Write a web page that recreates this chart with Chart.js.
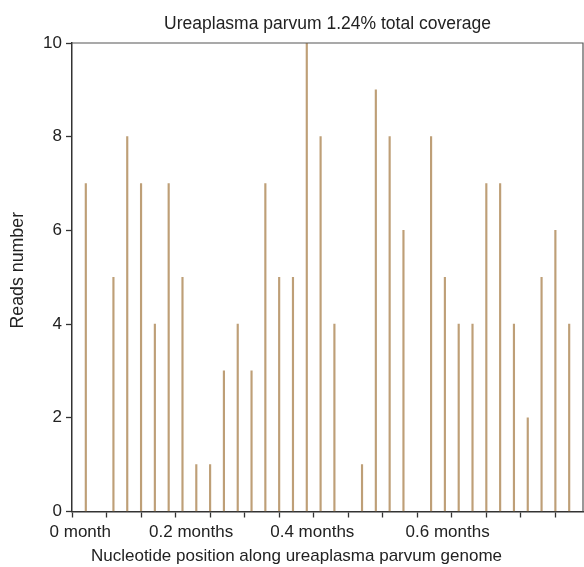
<!DOCTYPE html>
<html>
<head>
<meta charset="utf-8">
<title>Ureaplasma parvum coverage</title>
<script src="https://cdn.jsdelivr.net/npm/chart.js@4/dist/chart.umd.min.js"></script>
<style>
  html, body { margin: 0; padding: 0; background: #fff; }
  #wrap { width: 584px; height: 567px; }
</style>
</head>
<body>
<div id="wrap"><canvas id="coverageChart" width="584" height="567"></canvas></div>
<script>
// read positions (months) and read counts, taken off the figure
const positions = [0.02, 0.06, 0.08, 0.10, 0.12, 0.14, 0.16, 0.18, 0.20, 0.22, 0.24, 0.26, 0.28, 0.30, 0.32, 0.34, 0.36, 0.38,
                   0.42, 0.44, 0.46, 0.48, 0.52, 0.54, 0.56, 0.58, 0.60, 0.62, 0.64, 0.66, 0.68, 0.70, 0.72];
const reads = [7, 5, 8, 7, 4, 7, 5, 1, 1, 3, 4, 3, 7, 5, 5, 10, 8, 4,
               1, 9, 8, 6, 8, 5, 4, 4, 7, 7, 4, 2, 5, 6, 4];
const xTickLabels = ['0 month', '0.2 months', '0.4 months', '0.6 months'];
const yTicks = [0, 2, 4, 6, 8, 10];

// where the x labels sit in the original (they are not centred on their ticks)
const labelAt = [0.012, 0.1725, 0.348, 0.544];
const minorStep = 0.05;
const xMax = 0.74;

const FONT = "'Liberation Sans', Arial, Helvetica, sans-serif";
const AXIS = '#333';

function labelIndex(v) {
    return labelAt.findIndex(a => Math.abs(a - v) < 1e-9);
}

// top and right edges of the plot box
const frameBox = {
    id: 'frameBox',
    afterDraw(chart) {
        const { ctx, chartArea: a } = chart;
        ctx.save();
        ctx.strokeStyle = '#555';
        ctx.lineWidth = 1.2;
        ctx.beginPath();
        ctx.moveTo(a.left, a.top);
        ctx.lineTo(a.right, a.top);
        ctx.lineTo(a.right, a.bottom);
        ctx.stroke();
        ctx.restore();
    }
};

// axis captions, placed a little off-centre as in the original
const axisCaptions = {
    id: 'axisCaptions',
    afterDraw(chart) {
        const { ctx } = chart;
        const x = chart.scales.x, y = chart.scales.y;
        ctx.save();
        ctx.fillStyle = '#222';
        ctx.textAlign = 'center';
        ctx.textBaseline = 'middle';
        ctx.font = '17px ' + FONT;
        ctx.fillText('Nucleotide position along ureaplasma parvum genome', (x.left + x.right) / 2 - 31, 556);
        ctx.font = '17.8px ' + FONT;
        ctx.translate(18.3, (y.top + y.bottom) / 2 - 7);
        ctx.rotate(-Math.PI / 2);
        ctx.fillText('Reads number', 0, 0);
        ctx.restore();
    }
};

new Chart(document.getElementById('coverageChart'), {
    type: 'bar',
    data: {
        datasets: [{
            label: 'Reads',
            data: positions.map((p, i) => ({ x: p, y: reads[i] })),
            backgroundColor: '#be9f77',
            borderWidth: 0,
            barThickness: 1.5
        }]
    },
    options: {
        responsive: false,
        animation: false,
        layout: { padding: { left: 0, right: 1, top: 0, bottom: 0 } },
        scales: {
            x: {
                type: 'linear',
                min: 0, max: xMax,
                offset: false,
                grid: { offset: false, drawOnChartArea: false, tickLength: 6, tickWidth: 1.3,
                        tickColor: c => (c.tick && labelIndex(c.tick.value) >= 0) ? 'rgba(0,0,0,0)' : AXIS },
                border: { color: AXIS, width: 1.5 },
                afterBuildTicks: scale => {
                    const ticks = [];
                    for (let k = 0; k * minorStep <= xMax + 1e-9; k++) ticks.push({ value: +(k * minorStep).toFixed(4) });
                    labelAt.forEach(v => ticks.push({ value: v }));
                    ticks.sort((a, b) => a.value - b.value);
                    scale.ticks = ticks;
                },
                afterFit: scale => { scale.height = 55.5; },
                ticks: {
                    autoSkip: false, maxRotation: 0, padding: 4.3,
                    color: '#222', font: { family: FONT, size: 17 },
                    callback: v => { const i = labelIndex(v); return i >= 0 ? xTickLabels[i] : ''; }
                }
            },
            y: {
                min: 0, max: 10,
                grid: { drawOnChartArea: false, tickLength: 6, tickWidth: 1.3, tickColor: AXIS },
                border: { color: AXIS, width: 1.5 },
                afterBuildTicks: scale => { scale.ticks = yTicks.map(v => ({ value: v })); },
                afterFit: scale => { scale.width = 72; },
                ticks: { padding: 4, color: '#222', font: { family: FONT, size: 17 } }
            }
        },
        plugins: {
            legend: { display: false },
            tooltip: { enabled: false },
            title: {
                display: true, fullSize: false,
                text: 'Ureaplasma parvum 1.24% total coverage',
                color: '#222',
                font: { family: FONT, size: 17.5, weight: 'normal' },
                padding: { top: 13.2, bottom: 8.8 }
            }
        }
    },
    plugins: [frameBox, axisCaptions]
});
</script>
</body>
</html>
